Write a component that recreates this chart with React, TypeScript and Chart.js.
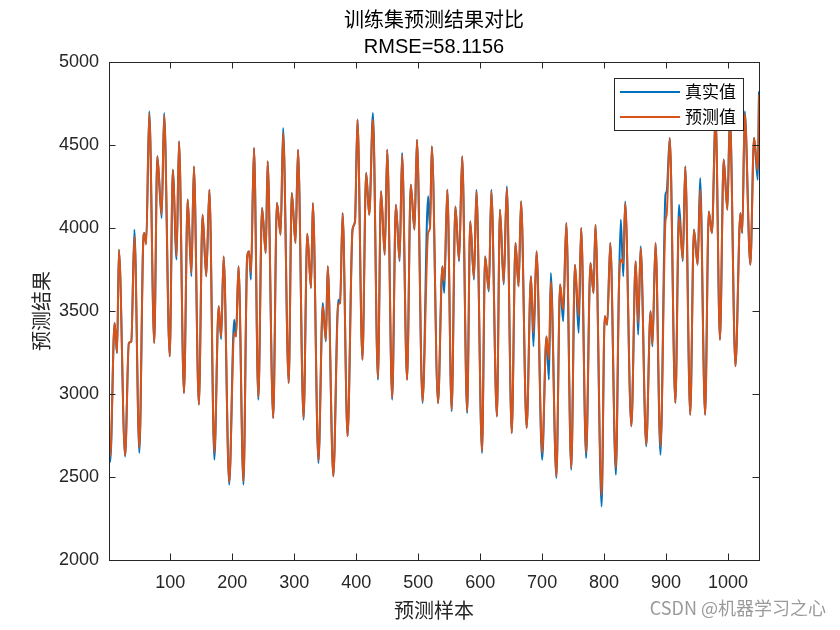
import React, { useEffect, useRef } from "react";
import { Chart, registerables } from "chart.js";

Chart.register(...registerables);

// sample index of each read-off turning point
const sampleIdx = [
  1, 3, 10, 14, 17, 27, 33, 37, 42, 50,
  56, 58, 61, 66, 74, 79, 86, 90, 99, 104,
  110, 114, 122, 128, 134, 138, 146, 152, 158, 163,
  171, 178, 182, 186, 195, 203, 206, 210, 218, 224,
  227, 230, 235, 242, 248, 254, 257, 266, 272, 278,
  282, 291, 296, 302, 306, 315, 321, 327, 330, 339,
  346, 351, 354, 363, 371, 374, 378, 386, 394, 398,
  402, 410, 416, 421, 427, 435, 440, 446, 450, 458,
  464, 470, 474, 482, 488, 494, 498, 507, 516, 519,
  522, 532, 539, 542, 547, 554, 560, 566, 571, 579,
  584, 590, 594, 603, 608, 614, 618, 627, 632, 638,
  643, 651, 657, 662, 666, 675, 682, 686, 691, 700,
  707, 711, 714, 723, 729, 734, 739, 747, 753, 759,
  763, 771, 778, 783, 786, 796, 801, 805, 810, 819,
  824, 827, 831, 834, 844, 851, 855, 859, 868, 875,
  878, 883, 891, 899, 901, 906, 915, 921, 927, 931,
  939, 945, 951, 955, 963, 969, 974, 980, 987, 993,
  999, 1003, 1012, 1020, 1023, 1027, 1036, 1042, 1048, 1050,
];

// 真实值
const trueValues = [
  2604, 2590, 3428, 3247, 3869, 2624, 3307, 3317, 3990, 2645,
  3890, 3970, 3910, 4703, 3307, 4432, 4060, 4693, 3227, 4351,
  3810, 4522, 3006, 4171, 3709, 4371, 2936, 4080, 3709, 4231,
  2604, 3528, 3330, 3829, 2454, 3448, 3347, 3769, 2454, 3829,
  3860, 3689, 4482, 2966, 4120, 3849, 4402, 2855, 4150, 3960,
  4602, 3066, 4211, 3910, 4472, 2845, 3966, 3639, 4150, 2584,
  3548, 3317, 3769, 2504, 3568, 3548, 4090, 2745, 3990, 4040,
  4653, 3207, 4331, 4080, 4693, 3086, 4221, 3839, 4472, 2966,
  4140, 3800, 4452, 3086, 4261, 3990, 4532, 2946, 4191, 4000,
  4492, 2946, 3769, 3608, 4231, 2896, 4130, 3799, 4432, 2885,
  4040, 3689, 4231, 2645, 3829, 3618, 4231, 2865, 4110, 3659,
  4251, 2765, 3910, 3649, 4161, 2795, 3709, 3287, 3860, 2604,
  3347, 3086, 3729, 2494, 3659, 3438, 4030, 2544, 3779, 3367,
  4000, 2614, 3789, 3608, 4020, 2323, 3468, 3418, 3910, 2514,
  3649, 4050, 3709, 4160, 2805, 3799, 3357, 3890, 2685, 3498,
  3287, 3909, 2634, 4200, 4220, 4542, 2946, 4140, 3800, 4371,
  2875, 3990, 3779, 4301, 2875, 4100, 3970, 4673, 3327, 4412,
  4110, 4683, 3167, 4090, 3970, 4703, 3779, 4542, 4291, 4823,
];

// 预测值
const predValues = [
  2725, 2625, 3428, 3247, 3869, 2630, 3307, 3317, 3950, 2675,
  3890, 3970, 3900, 4690, 3307, 4432, 4080, 4680, 3227, 4351,
  3830, 4522, 3006, 4171, 3729, 4371, 2936, 4080, 3709, 4231,
  2645, 3528, 3347, 3829, 2470, 3367, 3347, 3769, 2474, 3829,
  3860, 3729, 4482, 2980, 4120, 3849, 4402, 2855, 4150, 3960,
  4572, 3066, 4211, 3910, 4472, 2855, 3966, 3639, 4150, 2600,
  3528, 3327, 3769, 2504, 3540, 3548, 4090, 2745, 3990, 4040,
  4653, 3207, 4331, 4080, 4653, 3096, 4221, 3839, 4472, 2976,
  4140, 3809, 4440, 3086, 4261, 3990, 4532, 2956, 3970, 4000,
  4492, 2946, 3769, 3679, 4231, 2906, 4130, 3809, 4432, 2895,
  4040, 3699, 4221, 2655, 3829, 3628, 4221, 2865, 4110, 3669,
  4241, 2765, 3910, 3649, 4161, 2795, 3709, 3367, 3860, 2645,
  3347, 3207, 3679, 2504, 3659, 3508, 4030, 2554, 3779, 3468,
  4000, 2645, 3789, 3608, 4020, 2393, 3468, 3418, 3910, 2554,
  3649, 3809, 3789, 4150, 2805, 3799, 3427, 3880, 2695, 3498,
  3300, 3909, 2685, 4040, 4080, 4542, 2946, 4070, 3809, 4371,
  2875, 3990, 3779, 4231, 2875, 4100, 3970, 4660, 3327, 4412,
  4110, 4670, 3167, 4090, 3970, 4690, 3779, 4542, 4351, 4803,
];

const xTickValues = [100, 200, 300, 400, 500, 600, 700, 800, 900, 1000];
const yTickValues = [2000, 2500, 3000, 3500, 4000, 4500, 5000];
const xMin = 1;
const xMax = 1050;
const yMin = 2000;
const yMax = 5000;

const titleLine1 = "训练集预测结果对比";
const titleLine2 = "RMSE=58.1156";
const seriesNames = ["真实值", "预测值"];
const xAxisTitle = "预测样本";
const yAxisTitle = "预测结果";
const watermark = "CSDN @机器学习之心";

const BLUE = "#0072BD";
const ORANGE = "#D95319";
const AXIS = "#262626";
const LATIN = '"Liberation Sans", Arial, sans-serif';
const CJK = '"Noto Sans CJK SC", "Noto Sans", sans-serif';

const decorPlugin = {
  id: "decor",
  afterDatasetsDraw(chart: any) {
    const { ctx, chartArea } = chart;
    const { left, right, top, bottom } = chartArea;
    const xs = chart.scales.x;
    const ys = chart.scales.y;
    ctx.save();
    // axes box
    ctx.strokeStyle = AXIS;
    ctx.lineWidth = 1;
    ctx.strokeRect(Math.round(left) + 0.5, Math.round(top) + 0.5, Math.round(right - left), Math.round(bottom - top));
    // inward ticks
    const tl = 6.5;
    ctx.beginPath();
    xTickValues.forEach((v) => {
      const p = Math.round(xs.getPixelForValue(v)) + 0.5;
      ctx.moveTo(p, bottom);
      ctx.lineTo(p, bottom - tl);
      ctx.moveTo(p, top);
      ctx.lineTo(p, top + tl);
    });
    yTickValues.forEach((v) => {
      const p = Math.round(ys.getPixelForValue(v)) + 0.5;
      ctx.moveTo(left, p);
      ctx.lineTo(left + tl, p);
      ctx.moveTo(right, p);
      ctx.lineTo(right - tl, p);
    });
    ctx.stroke();

    const cx = (left + right) / 2;
    ctx.fillStyle = "#000";
    ctx.textAlign = "center";
    ctx.textBaseline = "middle";
    ctx.font = `20px ${CJK}`;
    ctx.fillText(titleLine1, cx, 19);
    ctx.font = `20px ${LATIN}`;
    ctx.fillText(titleLine2, cx, 47);

    ctx.fillStyle = AXIS;
    ctx.font = `20px ${CJK}`;
    ctx.fillText(xAxisTitle, cx, 610);
    ctx.save();
    ctx.translate(41, (top + bottom) / 2);
    ctx.rotate(-Math.PI / 2);
    ctx.fillText(yAxisTitle, 0, 0);
    ctx.restore();

    // legend
    const lx = 614, ly = 78, lw = 129, lh = 52;
    ctx.fillStyle = "#fff";
    ctx.fillRect(lx, ly, lw, lh);
    ctx.strokeStyle = AXIS;
    ctx.strokeRect(lx + 0.5, ly + 0.5, lw, lh);
    const colors = [BLUE, ORANGE];
    seriesNames.forEach((name, i) => {
      const yy = ly + 14 + i * 25;
      ctx.strokeStyle = colors[i];
      ctx.lineWidth = 2;
      ctx.beginPath();
      ctx.moveTo(lx + 6, yy);
      ctx.lineTo(lx + 66, yy);
      ctx.stroke();
      ctx.fillStyle = "#000";
      ctx.textAlign = "left";
      ctx.font = `17px ${CJK}`;
      ctx.fillText(name, lx + 71, yy);
    });

    // watermark
    ctx.fillStyle = "#9a9a9a";
    ctx.textAlign = "right";
    ctx.font = `18px ${CJK}`;
    ctx.fillText(watermark, 826, 608);
    ctx.restore();
  },
};

export default function App() {
  const canvasRef = useRef<HTMLCanvasElement | null>(null);

  useEffect(() => {
    const canvas = canvasRef.current;
    if (!canvas) return;
    const mk = (vals: number[]) => sampleIdx.map((x, i) => ({ x, y: vals[i] }));
    const chart = new Chart(canvas, {
      type: "line",
      data: {
        datasets: [
          {
            label: seriesNames[0],
            data: mk(trueValues),
            borderColor: BLUE,
            backgroundColor: BLUE,
            borderWidth: 2,
            pointRadius: 0,
            cubicInterpolationMode: "monotone",
            fill: false,
            order: 2,
          },
          {
            label: seriesNames[1],
            data: mk(predValues),
            borderColor: ORANGE,
            backgroundColor: ORANGE,
            borderWidth: 2,
            pointRadius: 0,
            cubicInterpolationMode: "monotone",
            fill: false,
            order: 1,
          },
        ],
      },
      options: {
        responsive: false,
        animation: false,
        devicePixelRatio: 1,
        layout: { padding: { top: 62, right: 81, left: 0, bottom: 0 } },
        plugins: {
          legend: { display: false },
          title: { display: false },
          tooltip: { enabled: false },
        },
        scales: {
          x: {
            type: "linear",
            min: xMin,
            max: xMax,
            afterBuildTicks: (s: any) => {
              s.ticks = xTickValues.map((v) => ({ value: v }));
            },
            afterFit: (s: any) => {
              s.height = 70;
            },
            grid: { display: false, drawTicks: false },
            border: { display: false },
            ticks: {
              autoSkip: false,
              maxRotation: 0,
              padding: 12,
              color: AXIS,
              font: { family: LATIN, size: 18 },
              callback: (v: any) => String(v),
            },
          },
          y: {
            type: "linear",
            min: yMin,
            max: yMax,
            afterBuildTicks: (s: any) => {
              s.ticks = yTickValues.map((v) => ({ value: v }));
            },
            afterFit: (s: any) => {
              s.width = 109;
            },
            grid: { display: false, drawTicks: false },
            border: { display: false },
            ticks: {
              padding: 10,
              color: AXIS,
              font: { family: LATIN, size: 18 },
              callback: (v: any) => String(v),
            },
          },
        },
      } as any,
      plugins: [decorPlugin],
    });
    return () => chart.destroy();
  }, []);

  return (
    <div style={{ position: "fixed", left: 0, top: 0, width: 840, height: 630, background: "#fff" }}>
      <canvas ref={canvasRef} width={840} height={630} />
    </div>
  );
}
